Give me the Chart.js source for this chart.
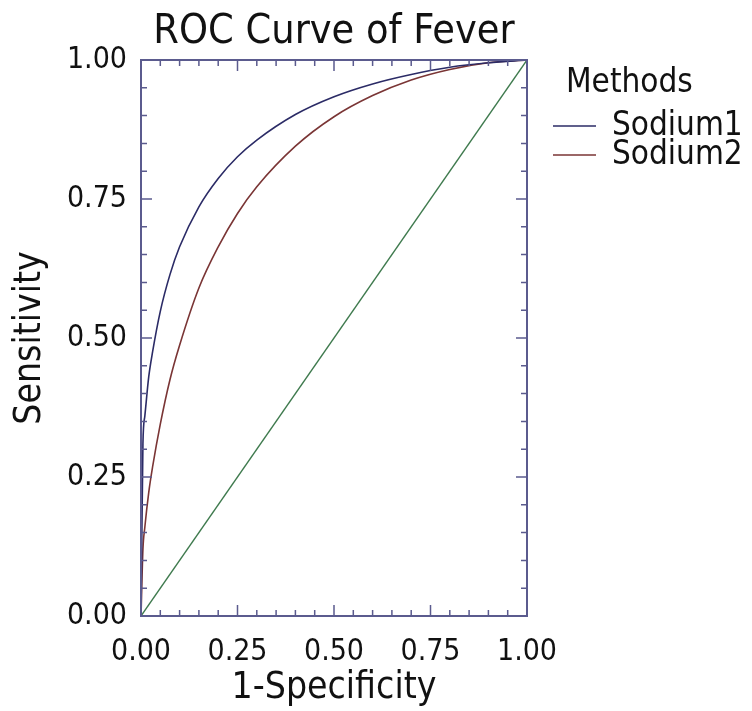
<!DOCTYPE html>
<html>
<head>
<meta charset="utf-8">
<script src="https://cdn.jsdelivr.net/npm/chart.js@4.4.1/dist/chart.umd.min.js"></script>
<style>
  html, body { margin: 0; padding: 0; background: #fff; }
  canvas { display: block; }
</style>
</head>
<body>
<canvas id="rocChart" width="752" height="711"></canvas>
<script>
// data
const fpr = [0, 0.005, 0.01, 0.02, 0.03, 0.05, 0.075, 0.1, 0.15, 0.2, 0.25, 0.3, 0.4, 0.5, 0.6, 0.7, 0.8, 0.9, 1];
const sodium1 = [0, 0.31, 0.36, 0.43, 0.475, 0.548, 0.614, 0.664, 0.736, 0.787, 0.826, 0.856, 0.902, 0.934, 0.957, 0.974, 0.987, 0.995, 1];
const sodium2 = [0, 0.12, 0.16, 0.222, 0.268, 0.345, 0.425, 0.487, 0.59, 0.664, 0.724, 0.772, 0.845, 0.898, 0.936, 0.964, 0.983, 0.995, 1];
const refX = [0, 1];
const refY = [0, 1];
const seriesNames = ["Sodium1", "Sodium2"];
const tickLabels = ["0.00", "0.25", "0.50", "0.75", "1.00"];

const FONT = "'DejaVu Sans Condensed', 'DejaVu Sans', sans-serif";
const FRAME = "#5b5b8e";

const toPoints = (xs, ys) => xs.map((x, i) => ({ x: x, y: ys[i] }));

// frame with inward ticks on all four sides, title and legend
const decorations = {
    id: "decorations",
    afterDatasetsDraw(chart) {
        const ctx = chart.ctx;
        const a = chart.chartArea;
        const xs = chart.scales.x, ys = chart.scales.y;
        ctx.save();
        ctx.strokeStyle = FRAME;
        ctx.lineWidth = 1.5;
        for (let i = 0; i <= 20; i++) {
            const len = i % 5 === 0 ? 11 : 6;
            const px = xs.getPixelForValue(i / 20);
            const py = ys.getPixelForValue(i / 20);
            ctx.beginPath();
            ctx.moveTo(px, a.bottom); ctx.lineTo(px, a.bottom - len);
            ctx.moveTo(px, a.top); ctx.lineTo(px, a.top + len);
            ctx.moveTo(a.left, py); ctx.lineTo(a.left + len, py);
            ctx.moveTo(a.right, py); ctx.lineTo(a.right - len, py);
            ctx.stroke();
        }
        ctx.lineWidth = 2;
        ctx.strokeRect(a.left, a.top, a.right - a.left, a.bottom - a.top);
        ctx.restore();
    },
    afterDraw(chart) {
        const ctx = chart.ctx;
        const a = chart.chartArea;
        ctx.save();
        ctx.fillStyle = "#111";
        ctx.textBaseline = "middle";
        ctx.textAlign = "center";
        ctx.font = "41px " + FONT;
        ctx.fillText("ROC Curve of Fever", (a.left + a.right) / 2, 32);

        ctx.textAlign = "left";
        ctx.font = "33px " + FONT;
        ctx.fillText("Methods", 566, 83);
        chart.data.datasets.slice(0, 2).forEach((ds, i) => {
            const y = 126 + i * 29;
            ctx.strokeStyle = ds.borderColor;
            ctx.lineWidth = 1.5;
            ctx.beginPath();
            ctx.moveTo(553, y); ctx.lineTo(596, y);
            ctx.stroke();
            ctx.fillText(ds.label, 612, y);
        });
        ctx.restore();
    }
};

const ctx = document.getElementById("rocChart").getContext("2d");
new Chart(ctx, {
    type: "line",
    data: {
        datasets: [
            {
                label: seriesNames[0],
                data: toPoints(fpr, sodium1),
                borderColor: "#2b2b66",
                borderWidth: 1.6,
                pointRadius: 0,
                cubicInterpolationMode: "monotone",
            },
            {
                label: seriesNames[1],
                data: toPoints(fpr, sodium2),
                borderColor: "#7a3535",
                borderWidth: 1.6,
                pointRadius: 0,
                cubicInterpolationMode: "monotone",
            },
            {
                label: "Reference",
                data: toPoints(refX, refY),
                borderColor: "#3f7a4e",
                borderWidth: 1.4,
                pointRadius: 0,
            },
        ],
    },
    options: {
        responsive: false,
        animation: false,
        layout: { padding: { top: 60, right: 225, left: 0, bottom: 0 } },
        plugins: {
            legend: { display: false },
            tooltip: { enabled: false },
        },
        scales: {
            x: {
                type: "linear",
                min: 0,
                max: 1,
                afterFit: (s) => { s.height = 95; },
                afterBuildTicks: (s) => { s.ticks = tickLabels.map(t => ({ value: parseFloat(t) })); },
                grid: { drawOnChartArea: false, drawTicks: false },
                border: { display: false },
                ticks: {
                    padding: 18,
                    color: "#111",
                    font: { family: FONT, size: 30 },
                    callback: (v) => v.toFixed(2),
                },
                title: {
                    display: true,
                    text: "1-Specificity",
                    color: "#111",
                    font: { family: FONT, size: 37 },
                    padding: { top: 0, bottom: 0 },
                },
            },
            y: {
                type: "linear",
                min: 0,
                max: 1,
                afterFit: (s) => { s.width = 141; },
                afterBuildTicks: (s) => { s.ticks = tickLabels.map(t => ({ value: parseFloat(t) })); },
                grid: { drawOnChartArea: false, drawTicks: false },
                border: { display: false },
                ticks: {
                    padding: 14,
                    color: "#111",
                    font: { family: FONT, size: 30 },
                    callback: (v) => v.toFixed(2),
                },
                title: {
                    display: true,
                    text: "Sensitivity",
                    color: "#111",
                    font: { family: FONT, size: 37 },
                    padding: { top: 8, bottom: 0 },
                },
            },
        },
    },
    plugins: [decorations],
});
</script>
</body>
</html>
